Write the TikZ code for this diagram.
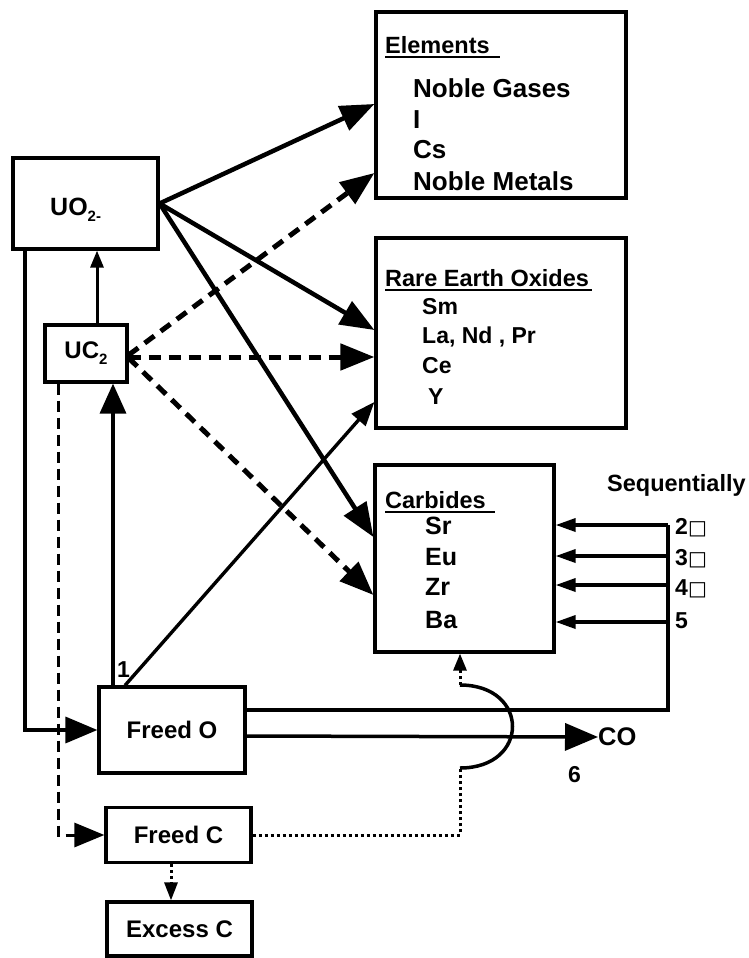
\documentclass[tikz,border=0pt]{standalone}
\usepackage{fontspec}
\setmainfont{Liberation Sans}
\newfontfamily\symfont{DejaVu Sans}
\usetikzlibrary{arrows.meta}
\newcommand\fsItem{\fontsize{24}{28}\selectfont}
\newcommand\fsBig{\fontsize{26}{30}\selectfont}
\newcommand\fsRe{\fontsize{23}{27}\selectfont}
\newcommand\fsHead{\fontsize{23.5}{27}\selectfont}
\newcommand\fsSub{\fontsize{15}{16}\selectfont}
\newcommand\sqbox{{\symfont\fontsize{20}{22}\selectfont □}}
\begin{document}
\begin{tikzpicture}[x=1pt,y=-1pt,
  box/.style={draw,line width=3.2pt,inner sep=0pt,font=\bfseries\fsItem},
  lbl/.style={inner sep=0pt,anchor=base west,font=\bfseries\fsItem},
  hdr/.style={inner sep=0pt,anchor=base west,font=\bfseries\fsHead},
  uline/.style={line width=2pt},
  bigarr/.style={line width=4.5pt,-{Triangle[length=34pt,width=26pt]}},
  dasharr/.style={line width=5pt,dash pattern=on 12pt off 8pt,-{Triangle[length=34pt,width=26pt]}},
  midarr/.style={line width=3.5pt,-{Triangle[length=30pt,width=26pt]}},
  thinarr/.style={line width=3.4pt,-{Triangle[length=24pt,width=18pt]}},
  smallarr/.style={line width=3pt,-{Triangle[length=17pt,width=13pt]}},
  seqarr/.style={line width=3.5pt,-{Triangle[length=20pt,width=13pt]}},
  plainline/.style={line width=3.5pt},
  dashline/.style={line width=3pt,dash pattern=on 11pt off 6pt},
  dotline/.style={line width=3pt,dash pattern=on 3pt off 3pt}
]
\useasboundingbox (0,0) rectangle (748,958);

% ---------- boxes ----------
\node[box,minimum width=250pt,minimum height=186pt] (ele) at (501,105) {};
\node[box,minimum width=250pt,minimum height=190pt] (re) at (501,333) {};
\node[box,minimum width=179pt,minimum height=187pt] (carb) at (464.5,558.5) {};
\node[box,minimum width=145pt,minimum height=91pt] (uo) at (85.5,203.5) {};
\node[lbl,font=\bfseries\fontsize{25}{29}\selectfont] (uot) at (50,215) {UO\raisebox{-6pt}{\fsSub 2-}};
\node[box,minimum width=82pt,minimum height=57pt] (uc) at (86,353.5) {UC\raisebox{-6pt}{\fsSub 2}};
\node[box,minimum width=146pt,minimum height=86pt] (fo) at (172,730) {Freed O};
\node[box,minimum width=145pt,minimum height=55pt] (fc) at (178.5,835) {Freed C};
\node[box,minimum width=145pt,minimum height=54pt] (ec) at (179.5,929) {Excess C};

% ---------- Elements ----------
\node[hdr] (eleh) at (385,53) {Elements};
\draw[uline] (385,57) -- (500,57);
\node[lbl,font=\bfseries\fsBig] (el1) at (413,97) {Noble Gases};
\node[lbl,font=\bfseries\fsBig] (el2) at (413,128) {I};
\node[lbl,font=\bfseries\fsBig] (el3) at (413,158) {Cs};
\node[lbl,font=\bfseries\fsBig] (el4) at (413,190) {Noble Metals};

% ---------- Rare Earth Oxides ----------
\node[hdr] (reh) at (385,286) {Rare Earth Oxides};
\draw[uline] (385,290) -- (592,290);
\node[lbl,font=\bfseries\fsRe] (re1) at (422,314) {Sm};
\node[lbl,font=\bfseries\fsRe] (re2) at (422,343) {La, Nd , Pr};
\node[lbl,font=\bfseries\fsRe] (re3) at (422,373) {Ce};
\node[lbl,font=\bfseries\fsRe] (re4) at (428,404) {Y};

% ---------- Carbides ----------
\node[hdr] (cah) at (385,508) {Carbides};
\draw[uline] (385,512) -- (495,512);
\node[lbl,font=\bfseries\fontsize{25}{29}\selectfont] (ca1) at (425,534) {Sr};
\node[lbl,font=\bfseries\fontsize{25}{29}\selectfont] (ca2) at (425,565) {Eu};
\node[lbl,font=\bfseries\fontsize{25}{29}\selectfont] (ca3) at (425,595) {Zr};
\node[lbl,font=\bfseries\fontsize{25}{29}\selectfont] (ca4) at (425,628) {Ba};

% ---------- side labels ----------
\node[hdr] (seq) at (607,491) {Sequentially};
\node[lbl,font=\bfseries\fontsize{23}{26}\selectfont] (s2) at (675,534) {2\sqbox};
\node[lbl,font=\bfseries\fontsize{23}{26}\selectfont] (s3) at (675,565) {3\sqbox};
\node[lbl,font=\bfseries\fontsize{23}{26}\selectfont] (s4) at (675,595) {4\sqbox};
\node[lbl,font=\bfseries\fontsize{23}{26}\selectfont] (s5) at (675,628) {5};
\node[lbl,font=\bfseries\fontsize{23}{26}\selectfont] (one) at (117,677) {1};
\node[lbl,font=\bfseries\fontsize{23}{26}\selectfont] (six) at (568,782) {6};
\node[lbl,anchor=west,font=\bfseries\fontsize{25.5}{29}\selectfont] (co) at (598,737) {CO};

% ---------- arrows from UO2 ----------
\draw[bigarr] (uo.east) -- (ele.west |- 0,104);
\draw[bigarr] (uo.east) -- (re.west |- 0,330);
\draw[bigarr] (uo.east) -- (carb.west |- 0,537);

% ---------- dashed arrows from UC2 ----------
\draw[dasharr] (uc.east |- 0,355) -- (ele.west |- 0,173);
\draw[dasharr] (uc.east |- 0,357) -- (re.west |- 0,357);
\draw[dasharr] (uc.east |- 0,358) -- (carb.west |- 0,595);

% ---------- vertical links ----------
\draw[smallarr] (97,0 |- uc.north) -- (97,0 |- uo.south);
\draw[midarr] (113,0 |- fo.north) -- (113,0 |- uc.south);
\draw[thinarr] (125,0 |- fo.north) -- (re.west |- 0,402);
\draw[plainline,-{Triangle[length=32pt,width=26pt]}] (25,0 |- uo.south) |- (fo.west);
\draw[dashline,-{Triangle[length=30pt,width=24pt]}] (58,0 |- uc.south) |- (fc.west);

% ---------- Freed O outputs ----------
\coordinate (q1) at (668,525);
\coordinate (q2) at (668,556);
\coordinate (q3) at (668,585);
\coordinate (q4) at (668,622);
\draw[plainline] (fo.east |- 0,710) -| (q1);
\draw[seqarr] (q1) -- (carb.east |- q1);
\draw[seqarr] (q2) -- (carb.east |- q2);
\draw[seqarr] (q3) -- (carb.east |- q3);
\draw[seqarr] (q4) -- (carb.east |- q4);
\draw[plainline,-{Triangle[length=33pt,width=27pt]}] (fo.east |- 0,736) -- (co.west);

% ---------- Freed C outputs ----------
\coordinate (h1) at (460,768);
\coordinate (h2) at (460,685);
\draw[dotline] (fc.east) -| (h1);
\draw[line width=3.5pt] (h1) .. controls (530,768) and (530,685) .. (h2);
\draw[dotline,-{Triangle[length=17pt,width=13pt]}] (h2) -- (460,0 |- carb.south);
\draw[dotline,-{Triangle[length=18pt,width=13pt]}] (171,0 |- fc.south) -- (171,0 |- ec.north);
\end{tikzpicture}
\end{document}
